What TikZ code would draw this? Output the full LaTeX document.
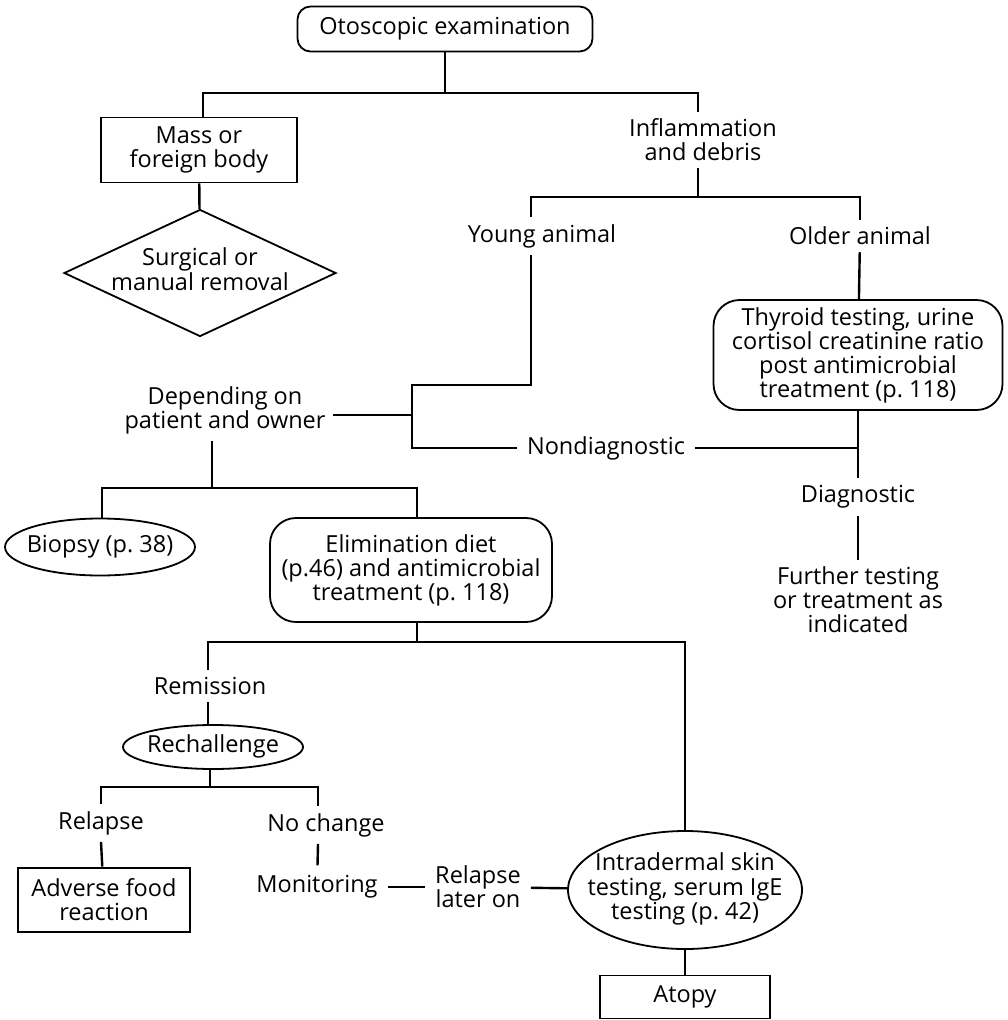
\documentclass[tikz,border=0pt]{standalone}
\usepackage{fontspec}
\setmainfont{Open Sans}
\usetikzlibrary{positioning,shapes.geometric}
\newcommand{\otoflat}[1]{\makebox[0pt]{\begin{tabular}{@{}c@{}}#1\end{tabular}}}
\tikzset{
    otobox/.style={draw, rectangle, line width=1.8pt, align=center, inner sep=3pt},
    otoround/.style={draw, rectangle, line width=1.8pt, rounded corners=26pt, align=center, inner sep=3pt},
    otoellipse/.style={draw, ellipse, line width=1.8pt, align=center, inner sep=0pt},
    otodiamond/.style={draw, diamond, line width=1.8pt, align=center, inner sep=0pt},
    ototext/.style={align=center, inner sep=7pt},
    otoline/.style={draw, line width=2.4pt}
}
\begin{document}
\begin{tikzpicture}[x=1pt, y=-1pt, font=\fontsize{23.5}{24}\selectfont]
    \useasboundingbox (0,0) rectangle (1007,1020);
    % top of the tree
    \node[otoround, rounded corners=13pt, minimum width=295pt, minimum height=45pt] (exam) at (445,29) {Otoscopic examination};
    \node[otobox, minimum width=196pt, minimum height=65pt] (mass) at (199,150) {Mass or\\foreign body};
    \node[otodiamond, aspect=2.14, minimum width=272pt, minimum height=127pt] (removal) at (200,273) {\raisebox{10pt}{\otoflat{Surgical or\\manual removal}}};
    \node[ototext] (inflam) at (703,140) {Inflammation\\and debris};
    \node[ototext] (young) at (542,236) {Young animal};
    \node[ototext] (older) at (860,236) {Older animal};
    \node[otoround, minimum width=289pt, minimum height=110pt] (thyroid) at (858,355) {Thyroid testing, urine\\cortisol creatinine ratio\\post antimicrobial\\treatment (p.~118)};
    \node[ototext] (depend) at (225,410) {Depending on\\patient and owner};
    \node[ototext, inner sep=10pt] (nondiag) at (606,448) {Nondiagnostic};
    \node[ototext] (diag) at (858,497) {Diagnostic};
    \node[ototext] (further) at (858,600) {Further testing\\or treatment as\\indicated};
    % middle
    \node[otoellipse, minimum width=190pt, minimum height=57pt] (biopsy) at (100,547) {\otoflat{Biopsy (p.~38)}};
    \node[otoround, minimum width=282pt, minimum height=104pt] (elimdiet) at (411,570) {Elimination diet\\(p.46) and antimicrobial\\treatment (p.~118)};
    \node[ototext] (remission) at (210,686) {Remission};
    \node[otoellipse, minimum width=180pt, minimum height=44pt] (rechallenge) at (213,747) {\otoflat{Rechallenge}};
    \node[ototext] (relapse) at (101,823) {Relapse};
    \node[ototext] (nochange) at (326,825) {No change};
    % bottom
    \node[otobox, line width=2.8pt, minimum width=172pt, minimum height=64pt] (adverse) at (104,900) {Adverse food\\reaction};
    \node[ototext, inner sep=10pt] (monitor) at (317,887) {Monitoring};
    \node[ototext, inner sep=10pt] (later) at (478,887) {Relapse\\later on};
    \node[otoellipse, minimum width=234pt, minimum height=118pt] (intradermal) at (685,890) {\otoflat{Intradermal skin\\testing, serum IgE\\testing (p.~42)}};
    \node[otobox, minimum width=170pt, minimum height=43pt] (atopy) at (685,997) {Atopy};

    \coordinate (jexam) at (445,93);
    \coordinate (jinflam) at (698,197);
    \coordinate (jyoung) at (412,385);
    \coordinate (jdepend) at (412,415);
    \coordinate (jnondiag) at (412,448);
    \coordinate (jbiopsy) at (212,488);
    \coordinate (jelim) at (417,642);
    \coordinate (jrechal) at (210,787);

    \draw[otoline] (exam) -- (jexam);
    \draw[otoline] ([xshift=4pt]mass.north) |- (jexam) -| ([xshift=-5pt]inflam.north);
    \draw[otoline] (mass) -- (removal);
    \draw[otoline] ([xshift=-5pt]inflam.south) -- (jinflam);
    \draw[otoline] ([xshift=-11pt]young.north) |- (jinflam) -| (older.north);
    \draw[otoline] ([xshift=-11pt]young.south) |- (jyoung) -- (jnondiag) -- (nondiag.west);
    \draw[otoline] (depend.east |- jdepend) -- (jdepend);
    \draw[otoline] (older) -- (thyroid);
    \draw[otoline] (thyroid) -- (diag);
    \draw[otoline] (nondiag.east) -- (nondiag.east -| thyroid.south);
    \draw[otoline] ([xshift=-13pt]depend.south) -- (jbiopsy);
    \draw[otoline] (diag) -- (further);
    \draw[otoline] ([xshift=2pt]biopsy.north) |- (jbiopsy) -| ([xshift=6pt]elimdiet.north);
    \draw[otoline] ([xshift=6pt]elimdiet.south) -- (jelim);
    \draw[otoline] ([xshift=-2pt]remission.north) |- (jelim) -| (intradermal.north);
    \draw[otoline] ([xshift=-2pt]remission.south) -- ([xshift=-5pt]rechallenge.north);
    \draw[otoline] ([xshift=-3pt]rechallenge.south) -- (jrechal);
    \draw[otoline] (relapse.north) |- (jrechal) -| ([xshift=-8pt]nochange.north);
    \draw[otoline] (relapse.south) -- (adverse);
    \draw[otoline] ([xshift=-8pt]nochange.south) -- (monitor);
    \draw[otoline] (monitor) -- (later);
    \draw[otoline] (later) -- (intradermal);
    \draw[otoline] (intradermal) -- (atopy);
\end{tikzpicture}
\end{document}
